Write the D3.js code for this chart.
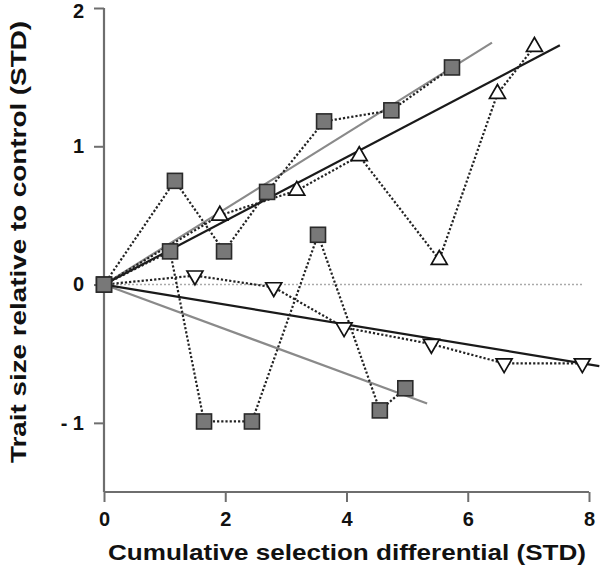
<!DOCTYPE html>
<html><head><meta charset="utf-8">
<script src="https://cdn.jsdelivr.net/npm/d3@7"></script>
<style>body{margin:0;background:#fff}svg{display:block}text{font-family:"Liberation Sans",Arial,sans-serif;font-weight:bold;fill:#111}</style>
</head><body><svg id="c" width="602" height="584"></svg>
<script>
const xTicks=[0,2,4,6,8];
const yTicks=[-1,0,1,2];
const yTickLabels=["- 1","0","1","2"];
// Square series (up)
const sqUpX=[0,1.17,1.98,2.69,3.63,4.74,5.74];
const sqUpY=[0,0.75,0.24,0.67,1.18,1.26,1.57];
// Square series (down)
const sqDnX=[0,1.09,1.65,2.44,3.53,4.55,4.97];
const sqDnY=[0,0.24,-0.99,-0.99,0.36,-0.91,-0.75];
// Triangle up series
const triUpX=[0,1.91,3.18,4.21,5.53,6.49,7.10];
const triUpY=[0,0.50,0.68,0.93,0.18,1.38,1.72];
// Triangle down series
const triDnX=[0,1.50,2.80,3.96,5.40,6.60,7.89];
const triDnY=[0,0.065,-0.02,-0.31,-0.43,-0.57,-0.57];
// Regression lines [x0,y0,x1,y1]
const regSqUp=[0,0,6.40,1.75];
const regSqDn=[0,0,5.33,-0.86];
const regTriUp=[0,0,7.52,1.73];
const regTriDn=[0,0,8.17,-0.59];
const zeroLine=[0,0,7.9,0];

const svg=d3.select("#c");
const x=d3.scaleLinear().domain([0,8]).range([104,589]);
const y=d3.scaleLinear().domain([-1.5,2]).range([492,8]);

const axisCol="#6e6e6e";
const gx=svg.append("g").attr("transform","translate(0,492)")
 .call(d3.axisBottom(x).tickValues(xTicks).tickSize(10).tickPadding(10));
const gy=svg.append("g").attr("transform","translate(104,0)")
 .call(d3.axisLeft(y).tickValues(yTicks).tickSize(10).tickPadding(10).tickFormat(d=>yTickLabels[yTicks.indexOf(d)]));
[gx,gy].forEach(g=>{
  g.select(".domain").attr("stroke",axisCol).attr("stroke-width",2.2);
  g.selectAll(".tick line").attr("stroke",axisCol).attr("stroke-width",2);
  g.selectAll(".tick text").attr("font-size",20).attr("font-weight","bold").attr("fill","#111")
   .style("font-family","'Liberation Sans',Arial,sans-serif");
});
gy.select(".domain").attr("d",`M0,${y(2)}V${y(-1.5)}`);
gx.select(".domain").attr("d",`M${x(0)},0H${x(8)}`);
gy.selectAll(".tick").filter(d=>d===2).select("text").attr("dy","0.48em");

svg.append("line").attr("x1",x(zeroLine[0])).attr("y1",y(zeroLine[1])).attr("x2",x(zeroLine[2])).attr("y2",y(zeroLine[3]))
 .attr("stroke","#aaa").attr("stroke-width",1.6).attr("stroke-dasharray","2,2");

function reg(r,col){
  svg.append("line").attr("x1",x(r[0])).attr("y1",y(r[1])).attr("x2",x(r[2])).attr("y2",y(r[3]))
   .attr("stroke",col).attr("stroke-width",2.2);
}
reg(regSqUp,"#8a8a8a");
reg(regSqDn,"#8a8a8a");
reg(regTriUp,"#1a1a1a");
reg(regTriDn,"#1a1a1a");

const line=d3.line().x(d=>x(d[0])).y(d=>y(d[1]));
function dotted(xs,ys){
  svg.append("path").attr("d",line(xs.map((v,i)=>[v,ys[i]]))).attr("fill","none")
   .attr("stroke","#222").attr("stroke-width",2.2).attr("stroke-dasharray","2.2,2");
}
dotted(sqUpX,sqUpY);dotted(sqDnX,sqDnY);dotted(triUpX,triUpY);dotted(triDnX,triDnY);

function squares(xs,ys){
  svg.append("g").selectAll("rect").data(xs.map((v,i)=>[v,ys[i]])).join("rect")
   .attr("x",d=>x(d[0])-7.5).attr("y",d=>y(d[1])-7.5).attr("width",15).attr("height",15)
   .attr("fill","#787878").attr("stroke","#2a2a2a").attr("stroke-width",1.6);
}
function tris(xs,ys,up){
  const s=d3.symbol().type(d3.symbolTriangle).size(110);
  svg.append("g").selectAll("path").data(xs.map((v,i)=>[v,ys[i]]).slice(1)).join("path")
   .attr("d",s).attr("transform",d=>`translate(${x(d[0])},${y(d[1])}) rotate(${up?0:180})`)
   .attr("fill","#fff").attr("stroke","#111").attr("stroke-width",1.7);
}
tris(triUpX,triUpY,true);
tris(triDnX,triDnY,false);
squares(sqDnX,sqDnY);
squares(sqUpX,sqUpY);

svg.append("text").attr("x",347).attr("y",560).attr("text-anchor","middle").attr("font-size",22)
 .attr("textLength",478).attr("lengthAdjust","spacingAndGlyphs").text("Cumulative selection differential (STD)");
svg.append("text").attr("transform","translate(26,242) rotate(-90)").attr("text-anchor","middle").attr("font-size",22)
 .attr("textLength",442).attr("lengthAdjust","spacingAndGlyphs").text("Trait size relative to control (STD)");
</script></body></html>
